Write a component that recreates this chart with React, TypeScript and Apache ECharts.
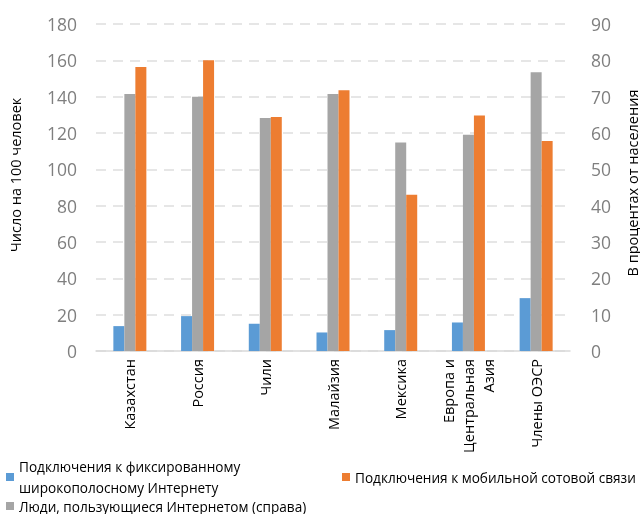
import React, { useEffect, useRef } from "react";
import * as echarts from "echarts";

const categories = [
  "Казахстан",
  "Россия",
  "Чили",
  "Малайзия",
  "Мексика",
  "Европа и\nЦентральная\nАзия",
  "Члены ОЭСР",
];
const fixedBroadband = [13.7, 19.2, 15.0, 10.2, 11.5, 15.7, 29.1];
const internetUsers = [70.7, 70.0, 64.1, 70.7, 57.4, 59.5, 76.7];
const mobileCellular = [156.3, 160.0, 128.8, 143.6, 86.0, 129.7, 115.6];

const seriesNames = [
  "Подключения к фиксированному\nширокополосному Интернету",
  "Люди, пользующиеся Интернетом (справа)",
  "Подключения к мобильной сотовой связи",
];
const leftTitle = "Число на 100 человек";
const rightTitle = "В процентах от населения";

const FONT = "'Open Sans', 'Noto Sans', sans-serif";

export default function App() {
  const ref = useRef<HTMLDivElement>(null);
  useEffect(() => {
    if (!ref.current) return;
    const chart = echarts.init(ref.current, undefined, { renderer: "svg" });
    const legendBase = {
      orient: "horizontal" as const,
      icon: "rect",
      itemWidth: 8,
      itemHeight: 8,
      selectedMode: false,
      padding: 0,
    };
    const legendText = (lh: number) => ({
      fontFamily: FONT,
      fontSize: 13.6,
      color: "#000",
      lineHeight: lh,
    });
    chart.setOption({
      animation: false,
      textStyle: { fontFamily: FONT },
      grid: { left: 96, right: 70, top: 24, bottom: 163, containLabel: false },
      legend: [
        { ...legendBase, left: 6, top: 456, textStyle: legendText(21), data: [seriesNames[0]] },
        { ...legendBase, left: 342, top: 469, textStyle: legendText(16), data: [seriesNames[2]] },
        { ...legendBase, left: 6, top: 498, textStyle: legendText(16), data: [seriesNames[1]] },
      ],
      graphic: [
        {
          type: "text",
          x: 15,
          y: 175,
          rotation: Math.PI / 2,
          style: {
            text: leftTitle,
            fontFamily: FONT,
            fontSize: 14.5,
            fill: "#000",
            textAlign: "center",
            textVerticalAlign: "middle",
          },
        },
        {
          type: "text",
          x: 632,
          y: 183,
          rotation: Math.PI / 2,
          style: {
            text: rightTitle,
            fontFamily: FONT,
            fontSize: 14.5,
            fill: "#000",
            textAlign: "center",
            textVerticalAlign: "middle",
          },
        },
      ],
      xAxis: {
        type: "category",
        data: categories,
        axisLine: { lineStyle: { color: "#d9d9d9", width: 1.5 } },
        axisTick: { show: false },
        axisLabel: {
          rotate: 90,
          interval: 0,
          fontSize: 14.5,
          color: "#000",
          lineHeight: 20,
          margin: 8,
          fontFamily: FONT,
        },
      },
      yAxis: [
        {
          type: "value",
          min: 0,
          max: 180,
          interval: 20,
          axisLine: { show: false },
          axisTick: { show: false },
          axisLabel: { fontSize: 17.5, color: "#7f7f7f", margin: 19, fontFamily: FONT },
          splitLine: { lineStyle: { color: "#e6e6e6", width: 2, type: [10, 7] } },
        },
        {
          type: "value",
          min: 0,
          max: 90,
          interval: 10,
          position: "right",
          axisLine: { show: false },
          axisTick: { show: false },
          axisLabel: { fontSize: 17.5, color: "#7f7f7f", margin: 21, fontFamily: FONT },
          splitLine: { show: false },
        },
      ],
      series: [
        {
          name: seriesNames[0],
          type: "bar",
          yAxisIndex: 0,
          data: fixedBroadband,
          barWidth: 11,
          barGap: "0%",
          itemStyle: { color: "#5b9bd5" },
        },
        {
          name: seriesNames[1],
          type: "bar",
          yAxisIndex: 1,
          data: internetUsers,
          barWidth: 11,
          barGap: "0%",
          itemStyle: { color: "#a5a5a5" },
        },
        {
          name: seriesNames[2],
          type: "bar",
          yAxisIndex: 0,
          data: mobileCellular,
          barWidth: 11,
          barGap: "0%",
          itemStyle: { color: "#ed7d31" },
        },
      ],
    });
    return () => chart.dispose();
  }, []);
  return (
    <div
      ref={ref}
      style={{ position: "fixed", left: 0, top: 0, width: 640, height: 514 }}
    />
  );
}
